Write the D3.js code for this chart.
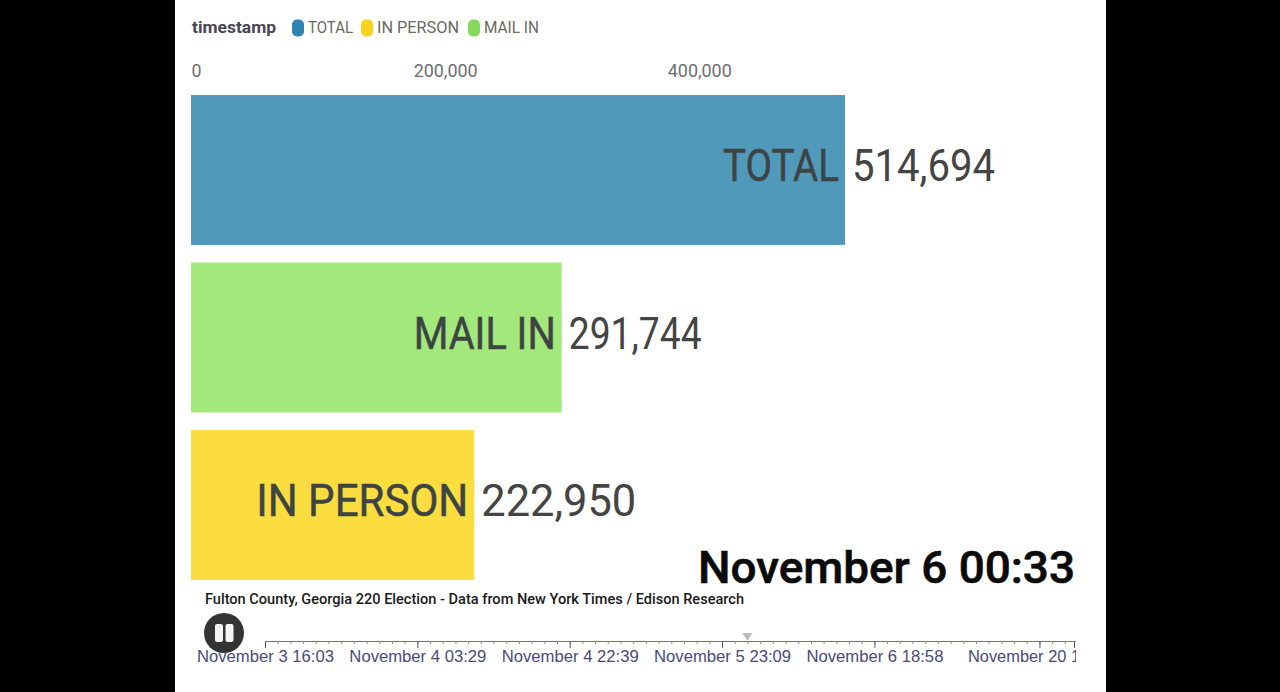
<!DOCTYPE html>
<html><head><meta charset="utf-8">
<script src="https://cdnjs.cloudflare.com/ajax/libs/d3/7.8.5/d3.min.js"></script>
<style>html,body{margin:0;padding:0;background:#000;overflow:hidden}svg{display:block}text{font-family:Roboto,sans-serif}</style>
</head><body><div id="c"></div>
<script>
const categories=["TOTAL","MAIL IN","IN PERSON"];
const values=[514694,291744,222950];
const legendNames=["TOTAL","IN PERSON","MAIL IN"];
const legendWidths=[45,82,55];
const labelWidths=[116,142,212];
const valueWidths=[143,133,155];
const axisTicks=[0,200000,400000];
const timelineLabels=["November 3 16:03","November 4 03:29","November 4 22:39","November 5 23:09","November 6 18:58","November 20 17:34"];
const timelineIndex=[0,12,24,36,48,61];
const timelineEnd=63.8;
const timelineSteps=[0,1,2,3,4,5,6,7,8,9,10,11,12,13,14,15,16,17,18,19,20,21,22,23,24,25,26,27,28,29,30,31,32,33,34,35,36,37,38,39,40,41,42,43,44,45,46,47,48,49,50,51,52,53,54,55,56,57,58,59,60,61,62,63];
const currentIndex=38;
const colors={"TOTAL":"#5099bb","MAIL IN":"#a3e87b","IN PERSON":"#fbdd3f"};
const legendColors={"TOTAL":"#2f83b0","IN PERSON":"#fbd21e","MAIL IN":"#85d95c"};
const W=1280,H=692;
const svg=d3.select("#c").append("svg").attr("width",W).attr("height",H);
svg.append("rect").attr("x",175).attr("y",0).attr("width",931).attr("height",H).attr("fill","#fff");
const x=d3.scaleLinear().domain([0,514694]).range([191,845]);
const y=d3.scaleBand().domain(categories).range([95,580]).paddingInner(0.105);
const num=d3.format(",");
function cond(sel,w){return sel.attr("textLength",w).attr("lengthAdjust","spacingAndGlyphs");}
// value axis
const axis=d3.axisTop(x).tickValues(axisTicks).tickFormat(num).tickSize(0);
const ga=svg.append("g").attr("transform","translate(0,77)").call(axis);
ga.select(".domain").remove();
ga.selectAll("text").attr("font-size",18).attr("fill","#6e6e6e").attr("dy",0).attr("y",0);
ga.selectAll("text").each(function(d){cond(d3.select(this),d===0?10:64);if(d===0)d3.select(this).attr("x",5);});
// bars
const g=svg.append("g").selectAll("g").data(categories).join("g");
g.append("rect").attr("x",x(0)).attr("y",d=>y(d)).attr("width",d=>x(values[categories.indexOf(d)])-x(0)).attr("height",y.bandwidth()).attr("fill",d=>colors[d]);
g.append("text").attr("x",(d,i)=>x(values[i])-6-labelWidths[i]).attr("y",d=>y(d)+y.bandwidth()/2+11).attr("font-size",44).attr("fill","#3d4444").attr("stroke","#3d4444").attr("stroke-width",0.5)
 .text(d=>d).each(function(d,i){cond(d3.select(this),labelWidths[i]);});
g.append("text").attr("x",(d,i)=>x(values[i])+7).attr("y",d=>y(d)+y.bandwidth()/2+11).attr("font-size",44).attr("fill","#444")
 .text((d,i)=>num(values[i])).each(function(d,i){cond(d3.select(this),valueWidths[i]);});
// legend
svg.append("text").attr("x",192).attr("y",33).attr("font-size",17).attr("font-weight",700).attr("fill","#4a4550").text("timestamp").call(cond,84);
let lx=292;
legendNames.forEach((n,i)=>{
 svg.append("rect").attr("x",lx).attr("y",19.5).attr("width",12).attr("height",17).attr("rx",5).attr("fill",legendColors[n]);
 svg.append("text").attr("x",lx+16).attr("y",33).attr("font-size",17).attr("fill","#6a6a5e").text(n).call(cond,legendWidths[i]);
 lx+=[69,107,0][i];
});
// time
svg.append("text").attr("x",1075).attr("y",583).attr("text-anchor","end").attr("font-size",45).attr("font-weight",500).attr("fill","#0a0a0a").attr("stroke","#0a0a0a").attr("stroke-width",0.6).text("November 6 00:33").call(cond,377);
svg.append("text").attr("x",205).attr("y",603.5).attr("font-size",14).attr("font-weight",500).attr("fill","#1a1a1a").text("Fulton County, Georgia 220 Election - Data from New York Times / Edison Research").call(cond,539);
// timeline
const tx=d3.scaleLinear().domain([0,timelineEnd]).range([265,1075]);
svg.append("defs").append("clipPath").attr("id","tc").append("rect").attr("x",190).attr("y",-10).attr("width",886).attr("height",40);
const tg=svg.append("g").attr("transform","translate(0,641)").attr("clip-path","url(#tc)");
const stroke="#6f6f9a";
const minor=d3.axisBottom(tx).tickValues(timelineSteps).tickFormat("").tickSize(3).tickSizeOuter(0);
const mg=tg.append("g").call(minor);
mg.select(".domain").attr("stroke",stroke).attr("stroke-width",1.2);
mg.selectAll("line").attr("stroke","#8a8aa8");
const major=d3.axisBottom(tx).tickValues(timelineIndex).tickFormat((d,i)=>timelineLabels[i]).tickSize(7).tickSizeOuter(0);
const mj=tg.append("g").call(major);
mj.select(".domain").remove();
mj.selectAll("line").attr("stroke","#55557a");
mj.selectAll("text").attr("font-size",16).attr("y",0).attr("dy",21).style("font-family","'Liberation Sans',Arial,sans-serif").attr("fill","#4a4a78")
 .each(function(d,i){cond(d3.select(this),i===5?144:137);});
tg.append("line").attr("x1",tx(timelineEnd)-0.5).attr("x2",tx(timelineEnd)-0.5).attr("y1",0).attr("y2",7).attr("stroke","#55557a");
// current marker
const cx=tx(currentIndex);
svg.append("path").attr("d",d3.line()([[cx-5,633],[cx+5,633],[cx,641]])).attr("fill","#bdbdbd");
// pause button
svg.append("circle").attr("cx",224).attr("cy",633).attr("r",20).attr("fill","#333");
[[215,8],[225.5,8]].forEach(b=>svg.append("rect").attr("x",b[0]).attr("y",624).attr("width",b[1]).attr("height",18).attr("rx",2).attr("fill","#f4f4f4"));
</script>
</body></html>
